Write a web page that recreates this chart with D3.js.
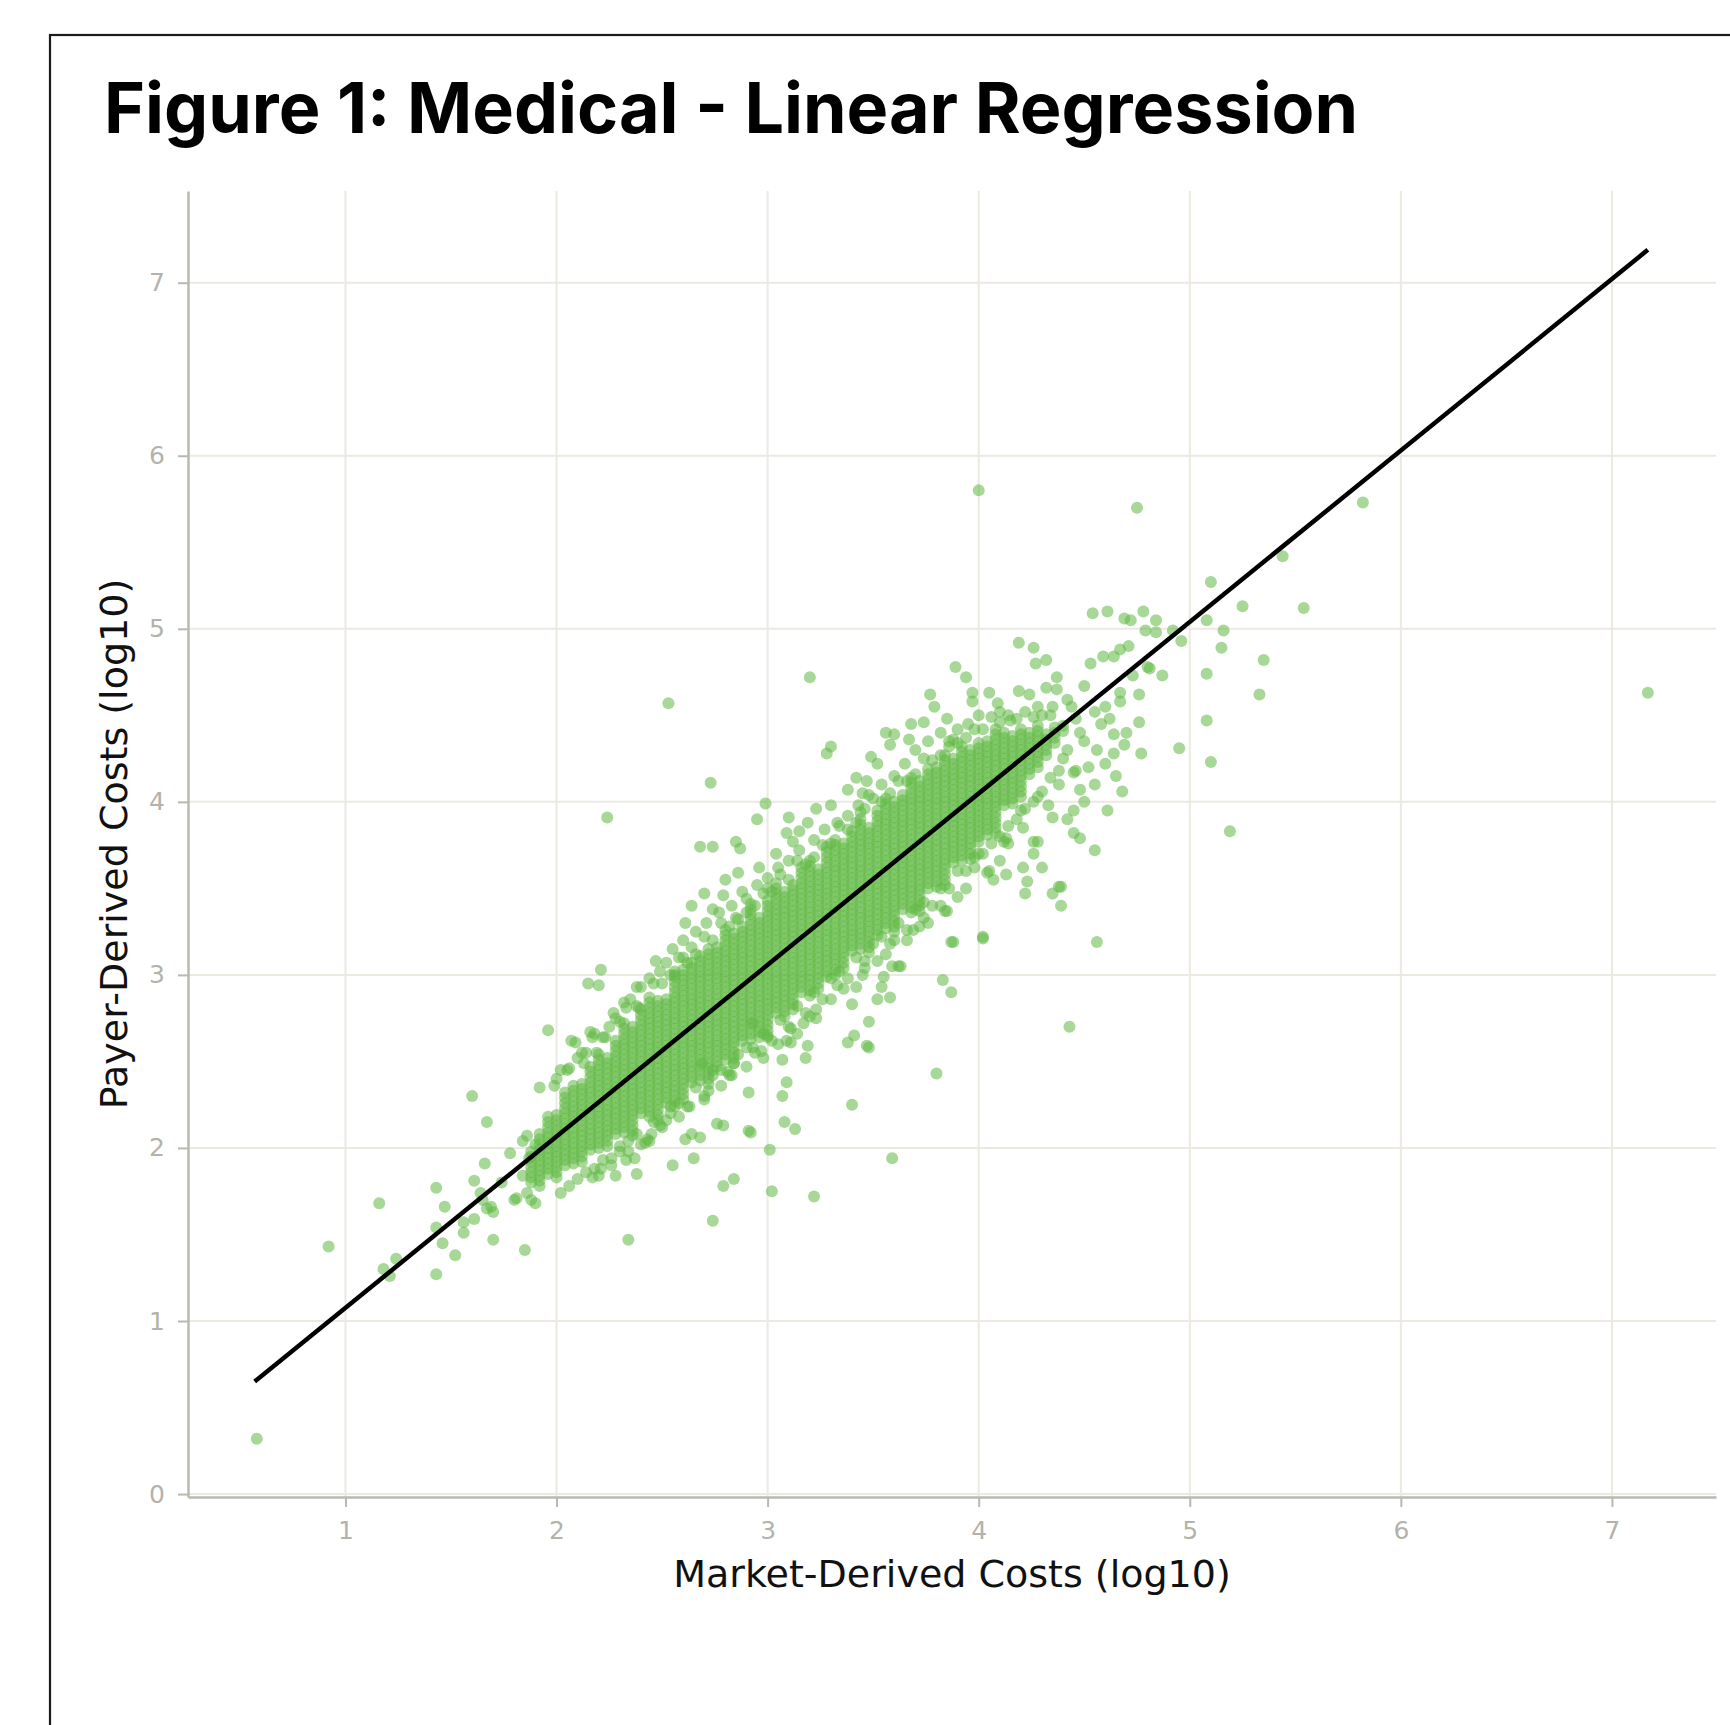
<!DOCTYPE html>
<html>
<head>
<meta charset="utf-8">
<script src="https://cdn.jsdelivr.net/npm/d3@7"></script>
<style>
  html, body { margin: 0; padding: 0; background: #fff; }
  svg { display: block; }
</style>
</head>
<body>
<div id="chart"></div>
<script>
const WIDTH = 1730;
const HEIGHT = 1725;

const TITLE = 'Figure 1: Medical - Linear Regression';
const X_LABEL = 'Market-Derived Costs (log10)';
const Y_LABEL = 'Payer-Derived Costs (log10)';

const xTicks = [1, 2, 3, 4, 5, 6, 7];
const yTicks = [0, 1, 2, 3, 4, 5, 6, 7];

// fitted regression line (end points, log10 units)
const fitX = [0.57, 7.17];
const fitY = [0.65, 7.19];

// isolated points and the speckled edge of the cloud
const scatteredPoints = [
  [0.58,0.32],[0.92,1.43],[1.16,1.68],[1.18,1.30],[1.21,1.26],[1.24,1.36],[1.43,1.27],[1.43,1.77],
  [1.47,1.66],[1.43,1.54],[1.46,1.45],[1.52,1.38],[1.56,1.57],[1.56,1.51],[1.61,1.81],[1.60,2.30],
  [1.67,2.15],[1.66,1.91],[1.65,1.70],[1.67,1.65],[1.70,1.63],[1.70,1.47],[1.74,1.80],[1.78,1.97],
  [1.80,1.70],[1.81,1.71],[1.84,2.04],[1.86,2.07],[1.85,1.41],[1.90,1.68],[1.64,1.74],[1.69,1.66],
  [1.61,1.59],[1.96,2.68],[1.92,2.35],[1.99,2.36],[2.07,2.62],[2.09,2.61],[2.16,2.67],[2.17,2.64],
  [2.23,2.64],[2.13,2.49],[2.19,2.55],[2.21,3.03],[2.15,2.95],[2.20,2.94],[2.24,3.91],[2.53,4.57],
  [2.73,4.11],[3.20,4.72],[4.00,5.80],[4.75,5.70],[5.82,5.73],[5.44,5.42],[5.10,5.27],[5.25,5.13],
  [5.54,5.12],[5.08,5.05],[5.16,4.99],[5.15,4.89],[5.35,4.82],[5.08,4.74],[5.33,4.62],[5.08,4.47],
  [4.95,4.31],[5.10,4.23],[5.19,3.83],[7.17,4.63],[4.56,3.19],[4.43,2.70],[4.02,3.21],[3.87,3.19],
  [3.80,2.43],[3.59,1.94],[3.40,2.25],[3.22,1.72],[3.02,1.75],[3.01,1.99],[2.74,1.58],[2.34,1.47],
  [2.17,1.83],[2.21,1.88],[2.26,1.94],[2.34,2.04],[2.38,1.85],[2.33,1.93],[2.28,1.84],[2.20,1.84],
  [2.37,1.94],[2.43,2.05],[2.44,2.04],[2.49,2.13],[2.54,2.20],[2.55,1.90],[2.65,1.94],[2.61,2.05],
  [2.64,2.08],[2.68,2.06],[2.79,1.78],[2.84,1.82],[2.76,2.14],[2.79,2.13],[2.92,2.09],[2.91,2.10],
  [3.08,2.15],[3.13,2.11],[3.09,2.38],[3.07,2.30],[3.07,2.51],[3.11,2.69],[3.09,2.62],[3.19,2.59],
  [3.18,2.52],[2.93,2.72],[2.91,2.32],[3.23,2.75],[3.23,2.80],[3.11,2.61],[3.38,2.61],[3.41,2.65],
  [3.47,2.59],[3.48,2.73],[3.48,2.58],[3.40,2.83],[3.42,2.93],[3.52,2.86],[3.54,2.93],[3.58,2.87],
  [3.55,2.99],[3.62,3.05],[3.59,3.05],[3.63,3.05],[3.83,2.97],[3.87,2.90],[3.84,3.37],[3.85,3.37],
  [3.88,3.19],[4.02,3.22],[4.55,3.72],[2.84,2.49],[2.74,2.45],[2.69,2.49],[2.81,2.44],[2.83,2.42],
  [2.93,2.58],[3.00,2.64],[3.17,2.72],[3.33,2.94],[3.46,3.04],[3.60,3.20],[3.69,3.26],[3.74,3.33],
  [2.45,2.08],[2.52,2.16],[2.63,2.24],[2.72,2.33],[2.97,2.56],[2.90,2.47],[3.05,2.60],[3.20,2.76],
  [3.30,2.86],[3.45,3.00],[3.52,3.08],[3.66,3.20],[3.76,3.30],[3.82,3.40],[2.30,1.98],[2.40,2.02],
  [2.58,2.18],[2.70,2.30],[2.78,2.36],[2.98,2.52],[3.14,2.66],[3.36,2.92],[3.56,3.12],[3.72,3.28],
  [4.04,3.59],[4.13,3.58],[4.21,3.62],[4.23,3.54],[4.22,3.47],[4.07,3.55],[4.05,3.60],[4.35,3.47],
  [4.39,3.51],[4.39,3.40],[4.38,3.51],[4.12,3.77],[4.14,3.76],[4.20,3.95],[4.26,3.70],[4.28,3.77],
  [4.35,3.91],[4.45,3.82],[4.48,3.79],[4.28,4.03],[4.45,4.17],[4.45,3.95],[4.61,3.95],[4.65,4.15],
  [4.68,4.06],[4.48,4.07],[4.46,4.18],[4.64,4.39],[4.69,4.33],[4.64,4.28],[4.77,4.28],[4.76,4.46],
  [4.13,3.79],[4.26,3.77],[4.21,3.85],[4.33,3.98],[4.38,4.10],[4.52,4.20],[4.56,4.30],[3.94,3.50],
  [3.98,3.62],[3.90,3.45],[4.00,3.70],[4.10,3.66],[4.30,3.62],[4.42,3.90],[4.50,4.00],[4.55,4.10],
  [4.60,4.22],[4.70,4.40],[4.58,4.45],[4.50,4.35],[4.40,4.25],
  [3.68,4.45],[3.67,4.36],[3.74,4.46],[3.77,4.62],[3.79,4.55],[3.85,4.48],[3.89,4.78],[3.94,4.72],
  [3.97,4.63],[3.97,4.58],[4.05,4.63],[4.09,4.57],[4.19,4.64],[4.24,4.62],[4.32,4.66],[4.37,4.72],
  [4.37,4.65],[4.42,4.59],[4.44,4.55],[4.50,4.67],[4.19,4.92],[4.26,4.89],[4.27,4.80],[4.32,4.82],
  [4.53,4.80],[4.59,4.84],[4.64,4.84],[4.67,4.88],[4.71,4.90],[4.80,4.78],[4.81,4.77],[4.87,4.73],
  [4.73,4.73],[4.76,4.62],[4.67,4.63],[4.67,4.58],[4.54,5.09],[4.61,5.10],[4.69,5.06],[4.72,5.05],
  [4.78,5.10],[4.84,5.05],[4.79,4.99],[4.84,4.98],[4.92,4.99],[4.96,4.93],[3.70,4.30],[3.82,4.40],
  [3.90,4.42],[4.00,4.50],[4.10,4.52],[4.15,4.47],[4.28,4.55],[4.35,4.55],[4.46,4.48],[4.55,4.52],
  [4.60,4.55],[4.62,4.48],[3.76,4.35],[3.88,4.36],[3.95,4.45],
  [2.99,3.99],[2.95,3.90],[2.68,3.74],[2.74,3.74],[2.85,3.77],[2.87,3.73],[2.86,3.59],[2.70,3.47],
  [2.79,3.46],[2.74,3.38],[2.88,3.48],[2.61,3.30],[3.28,4.28],[3.30,4.32],[3.10,3.91],[3.15,3.83],
  [3.09,3.82],[3.23,3.96],[3.19,3.88],[3.49,4.26],[3.52,4.22],[3.56,4.40],[3.60,4.39],[3.58,4.33],
  [3.38,4.07],[3.42,4.14],[3.47,4.12],[2.85,3.33],[2.64,3.16],[2.52,3.07],[2.56,3.00],[2.38,2.93],
  [2.33,2.81],[2.32,2.84],[2.39,2.81],[2.40,2.93],[2.44,2.98],[2.49,3.02],[2.47,3.08],[2.60,3.20],
  [2.66,3.25],[2.71,3.30],[2.77,3.36],[2.83,3.40],[2.90,3.44],[2.95,3.52],[3.00,3.56],[3.05,3.62],
  [3.10,3.66],[3.15,3.72],[3.22,3.78],[3.27,3.84],[3.33,3.88],[3.38,3.92],[3.43,3.98],[3.48,4.04],
  [3.54,4.10],[3.60,4.15],[3.65,4.22],[2.96,3.62],[3.04,3.70],[3.12,3.77],[3.30,3.98],[3.45,4.05],
  [2.80,3.55],[2.64,3.40],[2.55,3.15],[2.28,2.75],[2.25,2.70],[2.12,2.55],[2.05,2.45],[2.00,2.40],
  [2.02,2.45],[2.10,2.52],[2.18,2.66],[2.27,2.78],[2.35,2.86],[2.46,2.95],[2.58,3.10],[2.62,3.07],
  [2.70,3.22],[2.78,3.30],[2.90,3.36],[2.98,3.47],[3.06,3.58],[3.14,3.66],[3.26,3.75],[3.34,3.86],
  [3.46,3.96],[3.50,4.02],[3.62,4.12],[3.74,4.25],[3.86,4.35],[3.98,4.42],[4.06,4.49],[4.14,4.50],
  [4.22,4.52],[4.30,4.50],
  [2.02,1.74],[2.10,1.82],[2.18,1.88],[2.26,1.90],[2.34,1.98],[2.42,2.03],[2.50,2.12],[2.62,2.24],
  [2.70,2.28],[2.82,2.42],[2.94,2.55],[3.02,2.62],[3.10,2.70],[3.18,2.78],[3.26,2.86],[3.38,2.98],
  [3.46,3.08],[3.58,3.18],[3.66,3.26],[3.78,3.40],[3.86,3.50],[3.94,3.60],[4.02,3.70],[4.10,3.80],
  [4.18,3.90],[4.26,4.00],[4.34,4.14],[4.42,4.30],[4.48,4.40],
  [1.86,1.74],[1.88,1.70],[1.84,1.84],[1.87,1.94],[1.90,2.02],
  [2.06,2.46],[2.14,2.55],[2.22,2.64],[2.30,2.73],[2.38,2.82],[2.50,2.95],[2.54,3.00],[2.66,3.12],
  [2.74,3.20],[2.82,3.28],[2.86,3.32],[2.94,3.40],[3.02,3.48],[3.10,3.55],[3.18,3.64],[3.22,3.68],
  [3.30,3.76],[3.38,3.84],[3.42,3.88],[3.54,4.00],[3.58,4.05],[3.66,4.12],[3.70,4.16],[3.78,4.24],
  [3.82,4.27],[3.90,4.34],[3.94,4.37],[4.02,4.42],[4.10,4.46],[4.18,4.48],[4.26,4.49],[4.34,4.50],
  [2.60,3.10],[3.00,3.50],[3.44,3.94],[3.86,4.32],
  [2.06,1.78],[2.14,1.86],[2.22,1.93],[2.30,2.01],[2.38,2.08],[2.46,2.15],[2.54,2.24],[2.58,2.26],
  [2.66,2.35],[2.74,2.42],[2.78,2.45],[2.86,2.54],[2.90,2.58],[2.98,2.66],[3.06,2.74],[3.14,2.82],
  [3.22,2.90],[3.30,2.98],[3.34,3.02],[3.42,3.10],[3.50,3.18],[3.54,3.22],[3.62,3.30],[3.70,3.38],
  [3.74,3.42],[3.82,3.50],[3.90,3.60],[3.98,3.68],[4.06,3.76],[4.14,3.86],[4.22,3.96],[4.30,4.06],
  [4.38,4.18]
];

// the dense core of the cloud, one column of payer values per market value
const denseColumns = [
  [1.88, [1.80,1.83,1.86,1.89,1.92,1.95,1.98]],
  [1.92, [1.78,1.81,1.84,1.87,1.90,1.93,1.96,1.99,2.02,2.05,2.08]],
  [1.96, [1.85,1.88,1.91,1.94,1.97,2.00,2.03,2.06,2.09,2.12,2.15,2.18]],
  [2.00, [1.83,1.86,1.89,1.92,1.95,1.98,2.01,2.04,2.07,2.10,2.13,2.16,2.19]],
  [2.04, [1.90,1.93,1.96,1.99,2.02,2.05,2.08,2.11,2.14,2.17,2.20,2.23,2.26,2.29,2.32]],
  [2.08, [1.91,1.94,1.97,2.00,2.03,2.06,2.09,2.12,2.15,2.18,2.21,2.24,2.27,2.30,2.33,2.36]],
  [2.12, [1.92,1.95,1.98,2.01,2.04,2.07,2.10,2.13,2.16,2.19,2.22,2.25,2.28,2.31,2.34,2.37]],
  [2.16, [1.99,2.02,2.05,2.08,2.11,2.14,2.17,2.20,2.23,2.26,2.29,2.32,2.35,2.38,2.41,2.44,2.47]],
  [2.20, [2.00,2.03,2.06,2.09,2.12,2.15,2.18,2.21,2.24,2.27,2.30,2.33,2.36,2.39,2.42,2.45,2.48,2.51,2.54]],
  [2.24, [2.01,2.04,2.07,2.10,2.13,2.16,2.19,2.22,2.25,2.28,2.31,2.34,2.37,2.40,2.43,2.46,2.49,2.52]],
  [2.28, [2.08,2.11,2.14,2.17,2.20,2.23,2.26,2.29,2.32,2.35,2.38,2.41,2.44,2.47,2.50,2.53,2.56,2.59,2.62]],
  [2.32, [2.09,2.12,2.15,2.18,2.21,2.24,2.27,2.30,2.33,2.36,2.39,2.42,2.45,2.48,2.51,2.54,2.57,2.60,2.63,2.66,2.69,2.72]],
  [2.36, [2.07,2.10,2.13,2.16,2.19,2.22,2.25,2.28,2.31,2.34,2.37,2.40,2.43,2.46,2.49,2.52,2.55,2.58,2.61,2.64,2.67,2.70]],
  [2.40, [2.20,2.23,2.26,2.29,2.32,2.35,2.38,2.41,2.44,2.47,2.50,2.53,2.56,2.59,2.62,2.65,2.68,2.71,2.74,2.77,2.80]],
  [2.44, [2.18,2.21,2.24,2.27,2.30,2.33,2.36,2.39,2.42,2.45,2.48,2.51,2.54,2.57,2.60,2.63,2.66,2.69,2.72,2.75,2.78,2.81,2.84,2.87]],
  [2.48, [2.16,2.19,2.22,2.25,2.28,2.31,2.34,2.37,2.40,2.43,2.46,2.49,2.52,2.55,2.58,2.61,2.64,2.67,2.70,2.73,2.76,2.79,2.82,2.85]],
  [2.52, [2.26,2.29,2.32,2.35,2.38,2.41,2.44,2.47,2.50,2.53,2.56,2.59,2.62,2.65,2.68,2.71,2.74,2.77,2.80,2.83,2.86]],
  [2.56, [2.24,2.27,2.30,2.33,2.36,2.39,2.42,2.45,2.48,2.51,2.54,2.57,2.60,2.63,2.66,2.69,2.72,2.75,2.78,2.81,2.84,2.87,2.90,2.93,2.96,2.99,3.02]],
  [2.60, [2.28,2.31,2.34,2.37,2.40,2.43,2.46,2.49,2.52,2.55,2.58,2.61,2.64,2.67,2.70,2.73,2.76,2.79,2.82,2.85,2.88,2.91,2.94,2.97,3.00,3.03]],
  [2.64, [2.38,2.41,2.44,2.47,2.50,2.53,2.56,2.59,2.62,2.65,2.68,2.71,2.74,2.77,2.80,2.83,2.86,2.89,2.92,2.95,2.98,3.01,3.04,3.07]],
  [2.68, [2.39,2.42,2.45,2.48,2.51,2.54,2.57,2.60,2.63,2.66,2.69,2.72,2.75,2.78,2.81,2.84,2.87,2.90,2.93,2.96,2.99,3.02,3.05,3.08,3.11]],
  [2.72, [2.37,2.40,2.43,2.46,2.49,2.52,2.55,2.58,2.61,2.64,2.67,2.70,2.73,2.76,2.79,2.82,2.85,2.88,2.91,2.94,2.97,3.00,3.03,3.06,3.09,3.12,3.15]],
  [2.76, [2.47,2.50,2.53,2.56,2.59,2.62,2.65,2.68,2.71,2.74,2.77,2.80,2.83,2.86,2.89,2.92,2.95,2.98,3.01,3.04,3.07,3.10,3.13,3.16]],
  [2.80, [2.51,2.54,2.57,2.60,2.63,2.66,2.69,2.72,2.75,2.78,2.81,2.84,2.87,2.90,2.93,2.96,2.99,3.02,3.05,3.08,3.11,3.14,3.17,3.20,3.23,3.26]],
  [2.84, [2.49,2.52,2.55,2.58,2.61,2.64,2.67,2.70,2.73,2.76,2.79,2.82,2.85,2.88,2.91,2.94,2.97,3.00,3.03,3.06,3.09,3.12,3.15,3.18,3.21,3.24]],
  [2.88, [2.62,2.65,2.68,2.71,2.74,2.77,2.80,2.83,2.86,2.89,2.92,2.95,2.98,3.01,3.04,3.07,3.10,3.13,3.16,3.19,3.22,3.25,3.28]],
  [2.92, [2.63,2.66,2.69,2.72,2.75,2.78,2.81,2.84,2.87,2.90,2.93,2.96,2.99,3.02,3.05,3.08,3.11,3.14,3.17,3.20,3.23,3.26,3.29,3.32,3.35,3.38,3.41]],
  [2.96, [2.64,2.67,2.70,2.73,2.76,2.79,2.82,2.85,2.88,2.91,2.94,2.97,3.00,3.03,3.06,3.09,3.12,3.15,3.18,3.21,3.24,3.27,3.30,3.33]],
  [3.00, [2.65,2.68,2.71,2.74,2.77,2.80,2.83,2.86,2.89,2.92,2.95,2.98,3.01,3.04,3.07,3.10,3.13,3.16,3.19,3.22,3.25,3.28,3.31,3.34,3.37,3.40,3.43]],
  [3.04, [2.78,2.81,2.84,2.87,2.90,2.93,2.96,2.99,3.02,3.05,3.08,3.11,3.14,3.17,3.20,3.23,3.26,3.29,3.32,3.35,3.38,3.41,3.44,3.47,3.50,3.53]],
  [3.08, [2.76,2.79,2.82,2.85,2.88,2.91,2.94,2.97,3.00,3.03,3.06,3.09,3.12,3.15,3.18,3.21,3.24,3.27,3.30,3.33,3.36,3.39,3.42,3.45,3.48]],
  [3.12, [2.80,2.83,2.86,2.89,2.92,2.95,2.98,3.01,3.04,3.07,3.10,3.13,3.16,3.19,3.22,3.25,3.28,3.31,3.34,3.37,3.40,3.43,3.46,3.49,3.52]],
  [3.16, [2.90,2.93,2.96,2.99,3.02,3.05,3.08,3.11,3.14,3.17,3.20,3.23,3.26,3.29,3.32,3.35,3.38,3.41,3.44,3.47,3.50,3.53,3.56,3.59,3.62]],
  [3.20, [2.88,2.91,2.94,2.97,3.00,3.03,3.06,3.09,3.12,3.15,3.18,3.21,3.24,3.27,3.30,3.33,3.36,3.39,3.42,3.45,3.48,3.51,3.54,3.57,3.60,3.63,3.66]],
  [3.24, [2.92,2.95,2.98,3.01,3.04,3.07,3.10,3.13,3.16,3.19,3.22,3.25,3.28,3.31,3.34,3.37,3.40,3.43,3.46,3.49,3.52,3.55,3.58,3.61]],
  [3.28, [2.99,3.02,3.05,3.08,3.11,3.14,3.17,3.20,3.23,3.26,3.29,3.32,3.35,3.38,3.41,3.44,3.47,3.50,3.53,3.56,3.59,3.62,3.65,3.68,3.71,3.74]],
  [3.32, [3.00,3.03,3.06,3.09,3.12,3.15,3.18,3.21,3.24,3.27,3.30,3.33,3.36,3.39,3.42,3.45,3.48,3.51,3.54,3.57,3.60,3.63,3.66,3.69,3.72,3.75,3.78]],
  [3.36, [3.04,3.07,3.10,3.13,3.16,3.19,3.22,3.25,3.28,3.31,3.34,3.37,3.40,3.43,3.46,3.49,3.52,3.55,3.58,3.61,3.64,3.67,3.70,3.73,3.76]],
  [3.40, [3.14,3.17,3.20,3.23,3.26,3.29,3.32,3.35,3.38,3.41,3.44,3.47,3.50,3.53,3.56,3.59,3.62,3.65,3.68,3.71,3.74,3.77,3.80,3.83]],
  [3.44, [3.15,3.18,3.21,3.24,3.27,3.30,3.33,3.36,3.39,3.42,3.45,3.48,3.51,3.54,3.57,3.60,3.63,3.66,3.69,3.72,3.75,3.78,3.81,3.84,3.87,3.90]],
  [3.48, [3.13,3.16,3.19,3.22,3.25,3.28,3.31,3.34,3.37,3.40,3.43,3.46,3.49,3.52,3.55,3.58,3.61,3.64,3.67,3.70,3.73,3.76,3.79,3.82,3.85]],
  [3.52, [3.23,3.26,3.29,3.32,3.35,3.38,3.41,3.44,3.47,3.50,3.53,3.56,3.59,3.62,3.65,3.68,3.71,3.74,3.77,3.80,3.83,3.86,3.89,3.92,3.95]],
  [3.56, [3.27,3.30,3.33,3.36,3.39,3.42,3.45,3.48,3.51,3.54,3.57,3.60,3.63,3.66,3.69,3.72,3.75,3.78,3.81,3.84,3.87,3.90,3.93,3.96,3.99,4.02]],
  [3.60, [3.25,3.28,3.31,3.34,3.37,3.40,3.43,3.46,3.49,3.52,3.55,3.58,3.61,3.64,3.67,3.70,3.73,3.76,3.79,3.82,3.85,3.88,3.91,3.94,3.97,4.00]],
  [3.64, [3.38,3.41,3.44,3.47,3.50,3.53,3.56,3.59,3.62,3.65,3.68,3.71,3.74,3.77,3.80,3.83,3.86,3.89,3.92,3.95,3.98,4.01,4.04]],
  [3.68, [3.36,3.39,3.42,3.45,3.48,3.51,3.54,3.57,3.60,3.63,3.66,3.69,3.72,3.75,3.78,3.81,3.84,3.87,3.90,3.93,3.96,3.99,4.02,4.05,4.08,4.11,4.14]],
  [3.72, [3.37,3.40,3.43,3.46,3.49,3.52,3.55,3.58,3.61,3.64,3.67,3.70,3.73,3.76,3.79,3.82,3.85,3.88,3.91,3.94,3.97,4.00,4.03,4.06,4.09,4.12]],
  [3.76, [3.50,3.53,3.56,3.59,3.62,3.65,3.68,3.71,3.74,3.77,3.80,3.83,3.86,3.89,3.92,3.95,3.98,4.01,4.04,4.07,4.10,4.13,4.16,4.19]],
  [3.80, [3.51,3.54,3.57,3.60,3.63,3.66,3.69,3.72,3.75,3.78,3.81,3.84,3.87,3.90,3.93,3.96,3.99,4.02,4.05,4.08,4.11,4.14,4.17,4.20]],
  [3.84, [3.52,3.55,3.58,3.61,3.64,3.67,3.70,3.73,3.76,3.79,3.82,3.85,3.88,3.91,3.94,3.97,4.00,4.03,4.06,4.09,4.12,4.15,4.18,4.21,4.24,4.27]],
  [3.88, [3.65,3.68,3.71,3.74,3.77,3.80,3.83,3.86,3.89,3.92,3.95,3.98,4.01,4.04,4.07,4.10,4.13,4.16,4.19,4.22,4.25]],
  [3.92, [3.66,3.69,3.72,3.75,3.78,3.81,3.84,3.87,3.90,3.93,3.96,3.99,4.02,4.05,4.08,4.11,4.14,4.17,4.20,4.23,4.26,4.29,4.32]],
  [3.96, [3.67,3.70,3.73,3.76,3.79,3.82,3.85,3.88,3.91,3.94,3.97,4.00,4.03,4.06,4.09,4.12,4.15,4.18,4.21,4.24,4.27,4.30]],
  [4.00, [3.77,3.80,3.83,3.86,3.89,3.92,3.95,3.98,4.01,4.04,4.07,4.10,4.13,4.16,4.19,4.22,4.25,4.28,4.31,4.34]],
  [4.04, [3.81,3.84,3.87,3.90,3.93,3.96,3.99,4.02,4.05,4.08,4.11,4.14,4.17,4.20,4.23,4.26,4.29,4.32,4.35]],
  [4.08, [3.82,3.85,3.88,3.91,3.94,3.97,4.00,4.03,4.06,4.09,4.12,4.15,4.18,4.21,4.24,4.27,4.30,4.33,4.36,4.39,4.42]],
  [4.12, [3.98,4.01,4.04,4.07,4.10,4.13,4.16,4.19,4.22,4.25,4.28,4.31,4.34,4.37,4.40]],
  [4.16, [3.99,4.02,4.05,4.08,4.11,4.14,4.17,4.20,4.23,4.26,4.29,4.32,4.35,4.38]],
  [4.20, [4.03,4.06,4.09,4.12,4.15,4.18,4.21,4.24,4.27,4.30,4.33,4.36,4.39,4.42]],
  [4.24, [4.16,4.19,4.22,4.25,4.28,4.31,4.34,4.37,4.40]],
  [4.28, [4.20,4.23,4.26,4.29,4.32,4.35,4.38,4.41,4.44]],
  [4.32, [4.27,4.30,4.33,4.36,4.39]],
  [4.36, [4.34,4.37,4.40,4.43]],
  [4.40, [4.41,4.44]]
];

const POINT_COLOR = '#62ba46';
const POINT_OPACITY = 0.56;
const GRID_COLOR = '#ebe9e1';
const AXIS_COLOR = '#b9b9b0';
const TICK_TEXT = '#b3b3ab';

const margin = { left: 188, top: 191, right: 1716, bottom: 1497 };

const svg = d3.select('#chart')
  .append('svg')
  .attr('width', WIDTH)
  .attr('height', HEIGHT);

svg.append('rect')
  .attr('width', WIDTH)
  .attr('height', HEIGHT)
  .attr('fill', '#fff');

// outer frame (runs off the right and bottom of the picture)
svg.append('rect')
  .attr('x', 50)
  .attr('y', 35)
  .attr('width', 1800)
  .attr('height', 1800)
  .attr('fill', 'none')
  .attr('stroke', '#1a1a1a')
  .attr('stroke-width', 2.2);

svg.append('text')
  .attr('x', 104)
  .attr('y', 133)
  .attr('font-family', 'Inter, "Liberation Sans", sans-serif')
  .attr('font-weight', 700)
  .attr('font-size', 70)
  .attr('fill', '#000')
  .text(TITLE);

const x = d3.scaleLinear()
  .domain([0.254, 7.493])
  .range([margin.left, margin.right]);

const y = d3.scaleLinear()
  .domain([-0.017, 7.53])
  .range([margin.bottom, margin.top]);

// grid
const grid = svg.append('g')
  .attr('stroke', GRID_COLOR)
  .attr('stroke-width', 2);

grid.selectAll('line.v')
  .data(xTicks)
  .enter().append('line')
    .attr('class', 'v')
    .attr('x1', d => x(d)).attr('x2', d => x(d))
    .attr('y1', margin.top).attr('y2', margin.bottom);

grid.selectAll('line.h')
  .data(yTicks)
  .enter().append('line')
    .attr('class', 'h')
    .attr('x1', margin.left).attr('x2', margin.right)
    .attr('y1', d => y(d)).attr('y2', d => y(d));

// points
const densePoints = [];
denseColumns.forEach(([cx, ys]) => ys.forEach(cy => densePoints.push([cx, cy])));
const allPoints = scatteredPoints.concat(densePoints);

svg.append('g')
  .attr('fill', POINT_COLOR)
  .attr('fill-opacity', POINT_OPACITY)
  .selectAll('circle')
  .data(allPoints)
  .enter().append('circle')
    .attr('cx', d => x(d[0]))
    .attr('cy', d => y(d[1]))
    .attr('r', 6);

// regression line
svg.append('line')
  .attr('x1', x(fitX[0])).attr('y1', y(fitY[0]))
  .attr('x2', x(fitX[1])).attr('y2', y(fitY[1]))
  .attr('stroke', '#000')
  .attr('stroke-width', 4.5);

// axes
const xAxis = d3.axisBottom(x)
  .tickValues(xTicks)
  .tickSizeInner(10)
  .tickSizeOuter(0)
  .tickPadding(14)
  .tickFormat(d3.format('d'));

const yAxis = d3.axisLeft(y)
  .tickValues(yTicks)
  .tickSizeInner(10)
  .tickSizeOuter(0)
  .tickPadding(13)
  .tickFormat(d3.format('d'));

const styleAxis = g => {
  g.select('.domain').attr('stroke', AXIS_COLOR).attr('stroke-width', 2.5);
  g.selectAll('.tick line').attr('stroke', AXIS_COLOR).attr('stroke-width', 2);
  g.selectAll('.tick text')
    .attr('fill', TICK_TEXT)
    .attr('font-family', '"DejaVu Sans", sans-serif')
    .attr('font-size', 25);
};

svg.append('g')
  .attr('transform', `translate(0,${margin.bottom})`)
  .call(xAxis)
  .call(styleAxis);

svg.append('g')
  .attr('transform', `translate(${margin.left},0)`)
  .call(yAxis)
  .call(styleAxis);

// axis titles
svg.append('text')
  .attr('x', (margin.left + margin.right) / 2)
  .attr('y', 1587)
  .attr('text-anchor', 'middle')
  .attr('font-family', '"DejaVu Sans", sans-serif')
  .attr('font-size', 38)
  .attr('fill', '#111')
  .text(X_LABEL);

svg.append('text')
  .attr('text-anchor', 'middle')
  .attr('transform', `translate(127,${(margin.top + margin.bottom) / 2}) rotate(-90)`)
  .attr('font-family', '"DejaVu Sans", sans-serif')
  .attr('font-size', 38)
  .attr('fill', '#111')
  .text(Y_LABEL);
</script>
</body>
</html>
